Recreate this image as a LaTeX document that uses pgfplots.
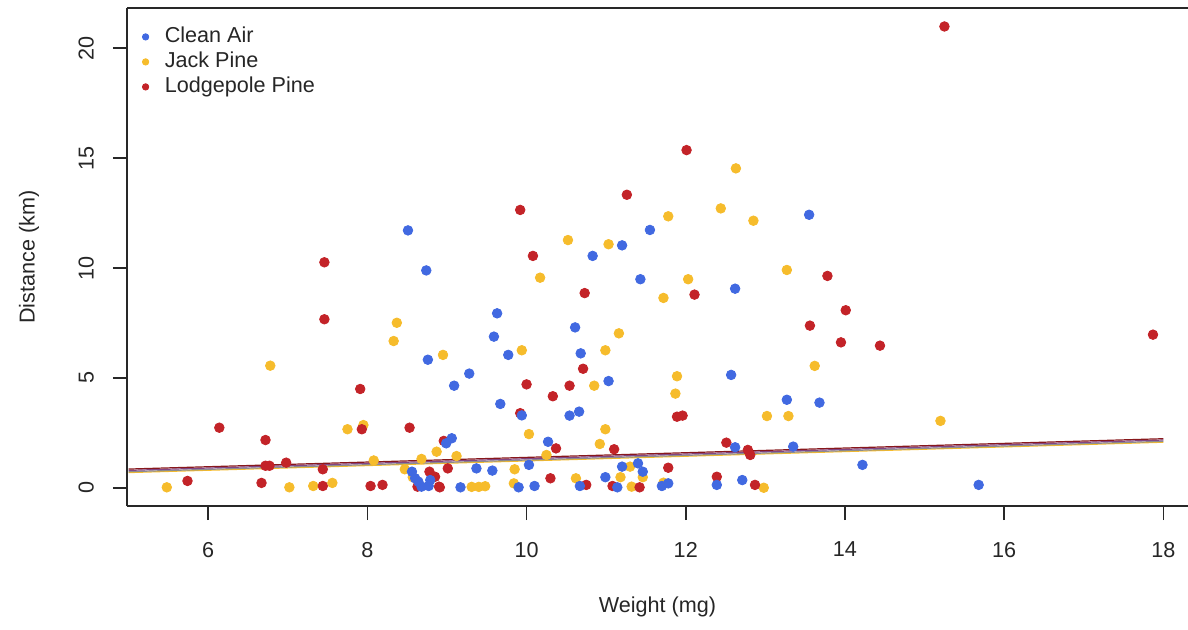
\documentclass[border=0pt]{standalone}
\usepackage{fontspec}
\setmainfont{Liberation Sans}
\usepackage{pgfplots}
\pgfplotsset{compat=1.18}

\definecolor{cleanair}{RGB}{65,105,225}
\definecolor{jackpine}{RGB}{246,188,44}
\definecolor{lodgepole}{RGB}{195,35,40}
\definecolor{frame}{RGB}{40,40,40}

% Weight (mg) vs. dispersal distance (km), one table per treatment
\pgfplotstableread{
x y
8.51 11.71
8.74 9.89
8.76 5.83
11.20 11.03
10.83 10.55
11.43 9.49
12.62 9.06
9.63 7.94
10.61 7.30
9.59 6.88
9.77 6.05
10.68 6.12
9.28 5.20
9.09 4.65
11.03 4.86
9.67 3.82
9.94 3.30
10.54 3.29
10.66 3.47
12.57 5.14
13.55 12.42
13.27 4.01
13.68 3.88
11.55 11.73
8.99 2.03
9.06 2.26
9.37 0.89
9.57 0.79
8.56 0.74
8.60 0.44
8.68 0.06
8.77 0.09
8.64 0.29
8.79 0.36
9.17 0.03
9.90 0.03
10.03 1.05
10.27 2.10
10.10 0.09
10.67 0.09
10.99 0.49
11.14 0.03
11.20 0.97
11.40 1.12
11.46 0.74
11.70 0.09
11.78 0.21
12.39 0.14
12.62 1.85
13.35 1.88
14.22 1.05
12.71 0.36
15.68 0.14
}\cleanair

\pgfplotstableread{
x y
8.37 7.51
8.33 6.68
6.78 5.56
8.95 6.05
10.52 11.27
11.03 11.08
10.17 9.56
12.03 9.49
11.72 8.64
11.16 7.03
9.94 6.26
10.99 6.26
10.85 4.65
11.89 5.08
11.87 4.29
12.63 14.53
12.44 12.71
12.85 12.15
11.78 12.35
13.27 9.91
13.62 5.55
13.02 3.27
13.29 3.27
15.20 3.05
7.75 2.67
7.95 2.86
8.08 1.25
5.48 0.03
7.02 0.03
7.32 0.09
7.56 0.23
8.87 1.65
9.12 1.45
8.68 1.32
8.47 0.85
9.85 0.85
8.57 0.49
9.31 0.05
9.40 0.05
9.48 0.08
9.84 0.21
10.25 1.50
10.03 2.45
10.99 2.67
10.92 2.00
10.62 0.44
11.30 0.97
11.18 0.49
11.46 0.49
11.32 0.06
11.72 0.24
12.98 0.01
}\jackpine

\pgfplotstableread{
x y
7.46 10.26
7.46 7.67
7.91 4.50
10.08 10.55
10.73 8.86
12.11 8.79
10.71 5.42
10.00 4.71
10.54 4.65
10.33 4.17
9.92 3.40
11.89 3.24
11.96 3.29
13.78 9.64
14.01 8.08
13.56 7.38
13.95 6.62
14.44 6.47
15.25 20.98
17.87 6.97
12.01 15.36
11.26 13.33
9.92 12.64
6.14 2.74
6.72 2.18
7.93 2.67
6.72 1.01
6.77 1.01
6.98 1.15
7.44 0.85
5.74 0.32
6.67 0.23
7.44 0.09
8.04 0.09
8.19 0.14
8.53 2.74
8.96 2.14
8.78 0.74
9.01 0.89
8.85 0.51
8.90 0.06
8.63 0.06
8.91 0.03
10.37 1.80
10.30 0.44
11.10 1.76
10.75 0.14
11.08 0.09
11.42 0.03
11.78 0.92
12.39 0.51
12.51 2.06
12.78 1.73
12.81 1.50
12.87 0.14
}\lodgepole

\begin{document}
\begin{tikzpicture}
\begin{axis}[
  at={(0,0)}, anchor=south west,
  scale only axis, width=530.5pt, height=249pt,
  xmin=4.98, xmax=18.31, ymin=-0.82, ymax=21.82,
  axis x line*=box, axis y line*=left,
  axis line style={draw=frame, line width=0.75pt},
  xtick={6,8,...,18}, ytick={0,5,...,20},
  xtick pos=left, ytick pos=left,
  tick align=outside, major tick length=7pt,
  tick style={draw=frame, line width=0.75pt},
  /pgf/number format/assume math mode=true,
  tick label style={font=\fontsize{10.8}{13}\selectfont, text=black!85},
  xticklabel style={yshift=-7.5pt},
  yticklabel style={rotate=90, anchor=south, yshift=6pt},
  xlabel={Weight (mg)}, ylabel={Distance (km)},
  label style={font=\fontsize{10.8}{13}\selectfont, text=black!85},
  xlabel style={at={(axis description cs:0.5,0)}, anchor=center, yshift=-50.5pt},
  ylabel style={at={(axis description cs:0,0.5)}, anchor=center, yshift=49pt},
  legend style={draw=none, fill=none, at={(axis description cs:0,1)}, anchor=north west,
    xshift=7.5pt, yshift=-9pt, font=\fontsize{10.8}{13}\selectfont, text=black!85,
    row sep=2pt, inner sep=0pt, column sep=6pt,
    nodes={inner ysep=0pt, text height=8pt, text depth=2.5pt}},
  legend cell align=left,
  legend image code/.code={\draw[#1, mark size=1.6pt] plot coordinates {(0pt,0pt)};},
  clip=false,
]
\addlegendimage{only marks, mark=*, mark options={draw=cleanair, fill=cleanair}}
\addlegendentry{Clean Air}
\addlegendimage{only marks, mark=*, mark options={draw=jackpine, fill=jackpine}}
\addlegendentry{Jack Pine}
\addlegendimage{only marks, mark=*, mark options={draw=lodgepole, fill=lodgepole}}
\addlegendentry{Lodgepole Pine}

\addplot[forget plot, only marks, mark=*, mark size=2.4pt, draw=jackpine, fill=jackpine] table {\jackpine};
\addplot[forget plot, only marks, mark=*, mark size=2.4pt, draw=lodgepole, fill=lodgepole] table {\lodgepole};
\addplot[forget plot, only marks, mark=*, mark size=2.4pt, draw=cleanair, fill=cleanair] table {\cleanair};

% fitted trend lines, one per treatment
\addplot[forget plot, jackpine, line width=0.6pt] coordinates {(5,0.70) (18,2.08)};
\addplot[forget plot, black!45, line width=0.6pt] coordinates {(5,0.74) (18,2.12)};
\addplot[forget plot, cleanair!50!lodgepole, line width=0.6pt] coordinates {(5,0.80) (18,2.18)};
\addplot[forget plot, lodgepole!70!black, line width=0.6pt] coordinates {(5,0.86) (18,2.24)};
\end{axis}
\pgfresetboundingbox
\useasboundingbox (-63.5pt,-61.5pt) rectangle (530.5pt,253pt);
\end{tikzpicture}
\end{document}
